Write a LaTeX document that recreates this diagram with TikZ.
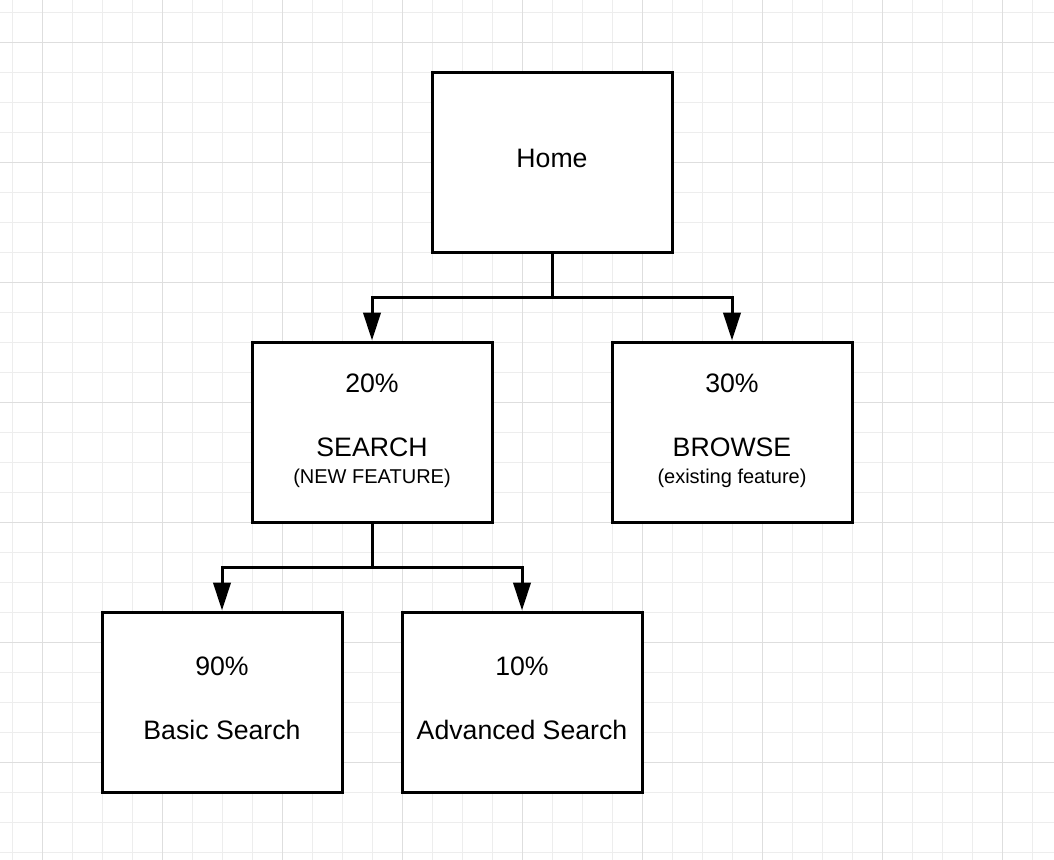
\documentclass[tikz,border=0pt]{standalone}
\usepackage{fontspec}
\setmainfont{Liberation Sans}
\usetikzlibrary{arrows.meta}
\newcommand{\bigtext}{\fontsize{20}{24}\selectfont}
\newcommand{\smalltext}{\fontsize{15}{18}\selectfont}
\tikzset{
    % Colors
    grid minor color/.style={black!7},
    grid major color/.style={black!13},
    %
    % Grid lines
    minor grid/.style={grid minor color,line width=.75pt},
    major grid/.style={grid major color,line width=.75pt},
    %
    % Nodes
    page box/.style={draw,fill=white,line width=2.25pt,minimum width=180pt,minimum height=135pt,align=center,inner sep=0pt,text depth=5pt},
    %
    % Arrows
    arrow tip/.tip={Triangle[length=21pt,width=13pt]},
    arr/.style={-{arrow tip},line width=2.25pt},
}
\tikzstyle{every node}=[font=\bigtext]

\begin{document}
\begin{tikzpicture}[x=.75pt,y=-.75pt]
        \useasboundingbox (0,0) rectangle (1054,860);
        % background grid
        \foreach \x in {12,42,...,1032} {
            \draw[minor grid] (\x,0) -- (\x,860);
        };
        \foreach \y in {12,42,...,852} {
            \draw[minor grid] (0,\y) -- (1054,\y);
        };
        \foreach \x in {42,162,...,1002} {
            \draw[major grid] (\x,0) -- (\x,860);
        };
        \foreach \y in {42,162,...,762} {
            \draw[major grid] (0,\y) -- (1054,\y);
        };
        % pages
        \node[page box] (home) at (552,162) {Home};
        \node[page box] (search) at (372,432) {20\%\\[24pt]SEARCH\\[-3.75pt]{\smalltext (NEW FEATURE)}};
        \node[page box] (browse) at (732,432) {30\%\\[24pt]BROWSE\\[-3.75pt]{\smalltext (existing feature)}};
        \node[page box] (basic) at (222,702) {90\%\\[24pt]Basic Search};
        \node[page box] (advanced) at (522,702) {10\%\\[24pt]Advanced Search};
        % links
        \draw[arr] (home.south) -- ++(0,44) -| (search.north);
        \draw[arr] (home.south) -- ++(0,44) -| (browse.north);
        \draw[arr] (search.south) -- ++(0,44) -| (basic.north);
        \draw[arr] (search.south) -- ++(0,44) -| (advanced.north);
    \end{tikzpicture}
\end{document}
